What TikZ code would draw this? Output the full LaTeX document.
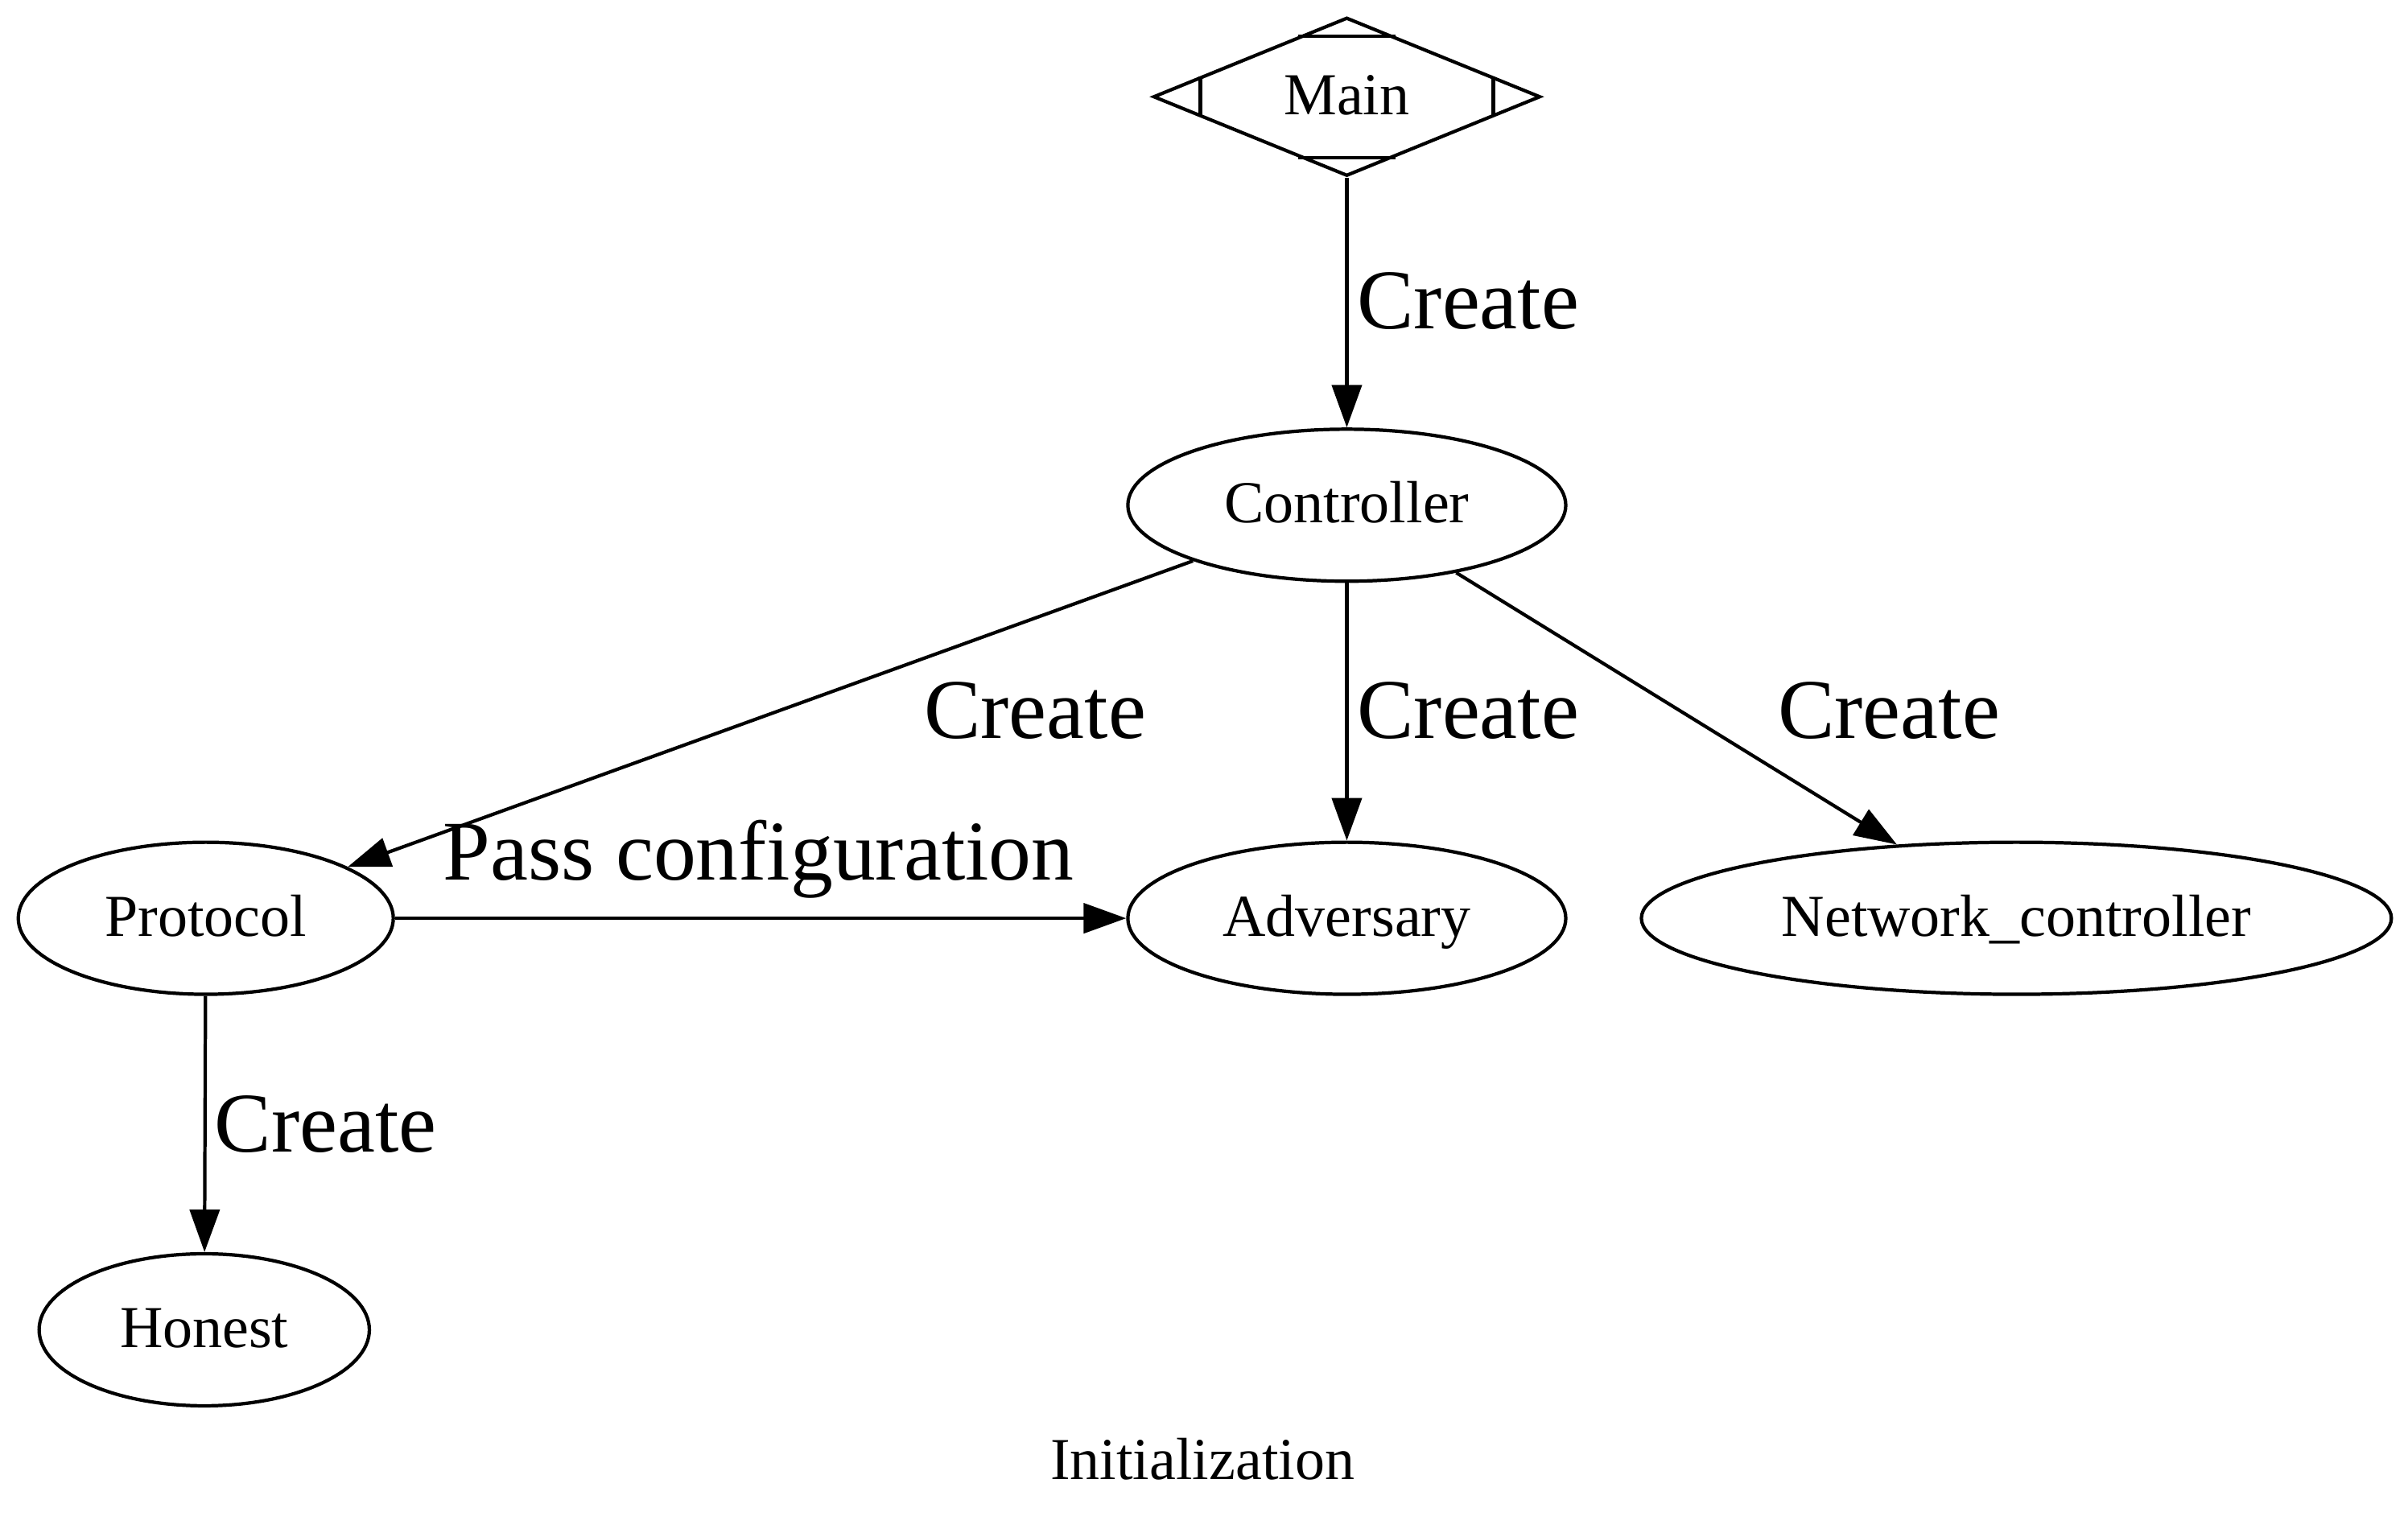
\documentclass[tikz,border=0pt]{standalone}
\usepackage{fontspec}
\setmainfont{Liberation Serif}
\usepackage{tikz}
\usetikzlibrary{arrows.meta}
\usetikzlibrary{shapes.geometric}
\usetikzlibrary{calc}
\usetikzlibrary{positioning}

\begin{document}
\begin{tikzpicture}[x=0.0127cm,y=-0.0127cm,line width=0.8pt,
  every node/.style={font=\fontsize{14}{17}\selectfont},
  obj/.style={draw,ellipse,inner sep=0pt,minimum height=1.257cm,text height=0.83em,text depth=0pt},
  lbl/.style={inner sep=0pt,anchor=base,font=\fontsize{20}{24}\selectfont},
  link/.style={-{Triangle[length=10pt,width=7pt]}}]
  \useasboundingbox (0,0) rectangle (1568,998);
  \node[draw,diamond,aspect=2.44,inner sep=0pt,minimum width=3.2cm,minimum height=1.31cm,text height=0.83em,text depth=0pt] (main) at (877,63) {Main};
  \node[obj,minimum width=3.62cm] (ctrl) at (877,329) {Controller};
  \node[obj,minimum width=3.10cm] (prot) at (134,598) {Protocol};
  \node[obj,minimum width=3.62cm] (adv) at (877,598) {Adversary};
  \node[obj,minimum width=6.20cm] (net) at (1313,598) {Network\_controller};
  \node[obj,minimum width=2.73cm] (hon) at (133,866) {Honest};
  \node (title) at (783,950) {Initialization};
  % marks of the main diamond
  \draw ($(main.north)!0.25!(main.west)$) -- ($(main.north)!0.25!(main.east)$);
  \draw ($(main.south)!0.25!(main.west)$) -- ($(main.south)!0.25!(main.east)$);
  \draw ($(main.west)!0.25!(main.north)$) -- ($(main.west)!0.25!(main.south)$);
  \draw ($(main.east)!0.25!(main.north)$) -- ($(main.east)!0.25!(main.south)$);
  % edges
  \draw[link](main)--(ctrl);
  \draw[link](ctrl)--(prot);
  \draw[link](ctrl)--(adv);
  \draw[link](ctrl)--(net);
  \draw[link](prot)--(adv);
  \draw[link](prot)--(hon);
  % edge labels
  \node[lbl] (c1) at (956,214) {Create};
  \node[lbl] (c2) at (674,481) {Create};
  \node[lbl] (c3) at (956,481) {Create};
  \node[lbl] (c4) at (1230,481) {Create};
  \node[lbl] (pass) at (494,573) {Pass configuration};
  \node[lbl] (c5) at (212,750) {Create};
\end{tikzpicture}
\end{document}
